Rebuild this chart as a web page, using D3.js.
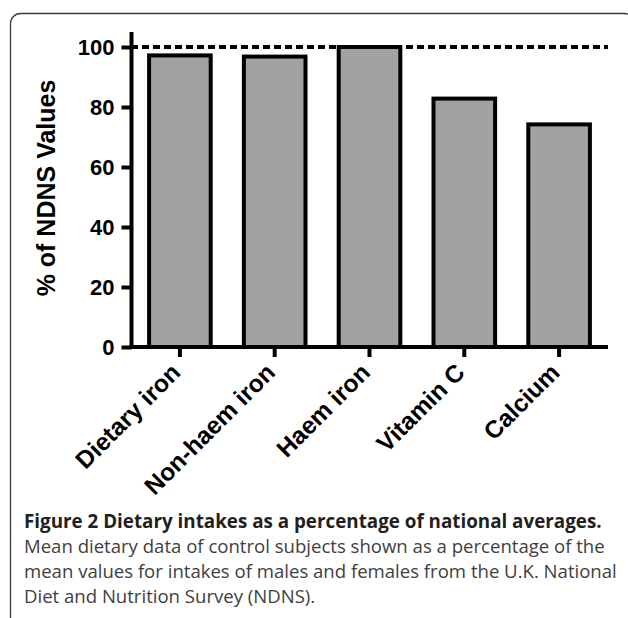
<!DOCTYPE html>
<html><head><meta charset="utf-8">
<script src="https://cdn.jsdelivr.net/npm/d3@7"></script>
<style>body{margin:0;background:#fff} svg{display:block}</style>
</head><body>
<svg id="c" width="628" height="618"></svg>
<script>
const categories = ["Dietary iron", "Non-haem iron", "Haem iron", "Vitamin C", "Calcium"];
const values = [97.2, 96.8, 100, 82.8, 74.2];
const yTicks = [0, 20, 40, 60, 80, 100];
const referenceValue = 100;
const yTitle = "% of NDNS Values";
const captionTitle = "Figure 2 Dietary intakes as a percentage of national averages.";
const captionLines = [
  "Mean dietary data of control subjects shown as a percentage of the",
  "mean values for intakes of males and females from the U.K. National",
  "Diet and Nutrition Survey (NDNS)."
];

const svg = d3.select("#c");
const axisFont = "'Liberation Sans', Arial, Helvetica, sans-serif";
const capFont = "'Open Sans', 'Noto Sans', sans-serif";

// frame
svg.append("rect").attr("x", 10.5).attr("y", 13.5).attr("width", 624).attr("height", 700)
  .attr("rx", 10).attr("fill", "none").attr("stroke", "#3a3a3a").attr("stroke-width", 1.3);

const x = d3.scaleBand().domain(categories).range([132.5, 606.5]).paddingInner(0.35).paddingOuter(0.175);
const y = d3.scaleLinear().domain([0, 105]).range([347, 32]);

// reference dashed line
svg.append("line").attr("x1", 131).attr("x2", 608)
  .attr("y1", y(referenceValue)).attr("y2", y(referenceValue))
  .attr("stroke", "#000").attr("stroke-width", 4).attr("stroke-dasharray", "7,4");

// bars
svg.append("g").selectAll("rect").data(categories).join("rect")
  .attr("x", d => x(d)).attr("width", x.bandwidth())
  .attr("y", (d, i) => y(values[i])).attr("height", (d, i) => y(0) - y(values[i]))
  .attr("fill", "#a2a2a2").attr("stroke", "#000").attr("stroke-width", 4);

// y axis
const gy = svg.append("g").attr("transform", "translate(131.5,0)")
  .call(d3.axisLeft(y).tickValues(yTicks).tickSize(10).tickSizeOuter(0).tickPadding(7));
gy.select(".domain").remove();
gy.selectAll(".tick line").attr("stroke", "#000").attr("stroke-width", 4);
gy.selectAll(".tick text").attr("font-family", axisFont).attr("font-weight", "bold")
  .attr("font-size", 22).attr("fill", "#000").attr("dy", "0.36em");
svg.append("line").attr("x1", 131.5).attr("x2", 131.5).attr("y1", y(105)).attr("y2", 349)
  .attr("stroke", "#000").attr("stroke-width", 4);

// x axis
const gx = svg.append("g").attr("transform", "translate(0,347)")
  .call(d3.axisBottom(x).tickSize(10).tickSizeOuter(0));
gx.select(".domain").remove();
gx.selectAll(".tick line").attr("stroke", "#000").attr("stroke-width", 4);
gx.selectAll(".tick text").attr("font-family", axisFont).attr("font-weight", "bold")
  .attr("font-size", 24.5).attr("fill", "#000")
  .attr("x", 0).attr("y", 0).attr("dy", 0)
  .attr("text-anchor", "end").attr("transform", "translate(2,27) rotate(-45)");
svg.append("line").attr("x1", 129.5).attr("x2", 608).attr("y1", 347).attr("y2", 347)
  .attr("stroke", "#000").attr("stroke-width", 4);

// y title
svg.append("text").attr("transform", "translate(55,188) rotate(-90)")
  .attr("text-anchor", "middle").attr("font-family", axisFont).attr("font-weight", "bold")
  .attr("font-size", 25).attr("fill", "#000").text(yTitle);

// caption
const t1 = svg.append("text").attr("x", 24).attr("y", 528)
  .attr("font-family", capFont).attr("font-weight", "bold").attr("font-size", 20)
  .attr("fill", "#231f20").text(captionTitle);
let w = t1.node().getComputedTextLength();
t1.attr("font-size", 20 * 578 / w);

const lines = svg.append("g").selectAll("text").data(captionLines).join("text")
  .attr("x", 24).attr("y", (d, i) => 553 + i * 25)
  .attr("font-family", capFont).attr("font-size", 20).attr("fill", "#404040").text(d => d);
const w2 = lines.nodes()[0].getComputedTextLength();
lines.attr("font-size", 20 * 581 / w2);
</script>
</body></html>
